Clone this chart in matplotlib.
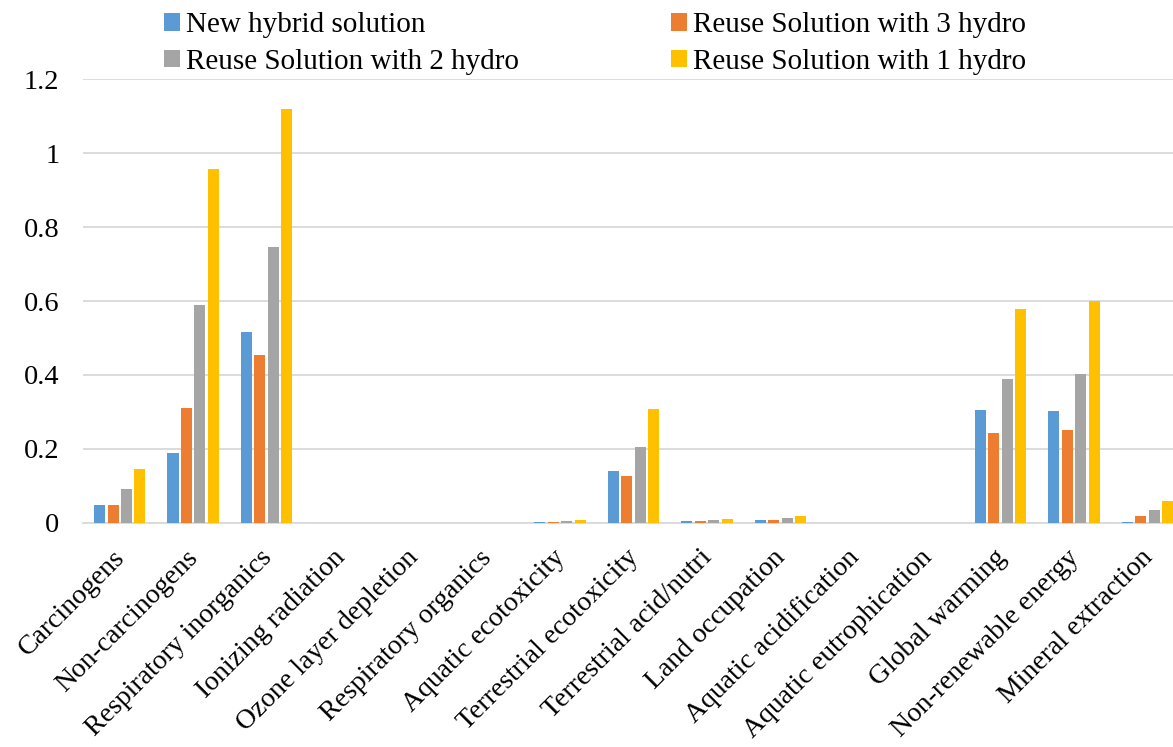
import matplotlib
matplotlib.use("Agg")
import matplotlib.pyplot as plt
import numpy as np

plt.rcParams['font.family'] = ['Liberation Serif', 'DejaVu Serif']

categories = ["Carcinogens", "Non-carcinogens", "Respiratory inorganics", "Ionizing radiation",
              "Ozone layer depletion", "Respiratory organics", "Aquatic ecotoxicity",
              "Terrestrial ecotoxicity", "Terrestrial acid/nutri", "Land occupation",
              "Aquatic acidification", "Aquatic eutrophication", "Global warming",
              "Non-renewable energy", "Mineral extraction"]

new_hybrid = [0.049, 0.19, 0.516, 0.0005, 0.0, 0.0002, 0.003, 0.140, 0.005, 0.007, 0.0, 0.0, 0.305, 0.302, 0.003]
reuse_3 = [0.049, 0.31, 0.454, 0.0005, 0.0, 0.0002, 0.003, 0.126, 0.004, 0.008, 0.0, 0.0, 0.243, 0.250, 0.020]
reuse_2 = [0.092, 0.59, 0.745, 0.0008, 0.0, 0.0003, 0.005, 0.206, 0.007, 0.012, 0.0, 0.0, 0.390, 0.402, 0.036]
reuse_1 = [0.145, 0.957, 1.12, 0.001, 0.0, 0.0005, 0.008, 0.307, 0.011, 0.018, 0.0, 0.0, 0.578, 0.600, 0.060]

series = [("New hybrid solution", new_hybrid, "#5B9BD5"),
          ("Reuse Solution with 3 hydro", reuse_3, "#ED7D31"),
          ("Reuse Solution with 2 hydro", reuse_2, "#A5A5A5"),
          ("Reuse Solution with 1 hydro", reuse_1, "#FFC000")]

fig = plt.figure(figsize=(11.73, 7.47), dpi=100)
ax = fig.add_axes([0.0708, 0.300, 0.9386, 0.594])

x = np.arange(len(categories))
w = 0.15
step = 0.183
handles = {}
for i, (name, vals, col) in enumerate(series):
    b = ax.bar(x + (i - 1.5) * step, vals, width=w, color=col, label=name, zorder=3,
               linewidth=0)
    handles[name] = b

ax.set_xlim(-0.5, len(categories) - 0.5)
ax.set_ylim(0, 1.2)
ax.set_yticks([0, 0.2, 0.4, 0.6, 0.8, 1.0, 1.2])
ax.set_yticklabels(["0", "0.2", "0.4", "0.6", "0.8", "1", "1.2"], fontsize=20.5)
ax.yaxis.grid(True, color="#D9D9D9", linewidth=1.3, zorder=0)
ax.set_axisbelow(True)
for s in ["top", "right", "left"]:
    ax.spines[s].set_visible(False)
ax.spines["bottom"].set_color("#D9D9D9")
ax.spines["bottom"].set_linewidth(1.3)
ax.spines["bottom"].set_zorder(1)
ax.tick_params(axis="y", length=0, pad=17)
ax.tick_params(axis="x", length=0, pad=16)
ax.set_xticks(x - 0.1)
ax.set_xticklabels(categories, rotation=45, ha="right", rotation_mode="anchor", fontsize=20)

order = ["New hybrid solution", "Reuse Solution with 2 hydro",
         "Reuse Solution with 3 hydro", "Reuse Solution with 1 hydro"]
fig.legend([handles[n] for n in order], order, ncol=2, loc="upper left",
           bbox_to_anchor=(0.130, 0.999), frameon=False, fontsize=21,
           handlelength=0.55, handleheight=0.55, handletextpad=0.2,
           columnspacing=5.2, labelspacing=0.36, borderaxespad=0.0)

fig.savefig("out.png", dpi=100)
